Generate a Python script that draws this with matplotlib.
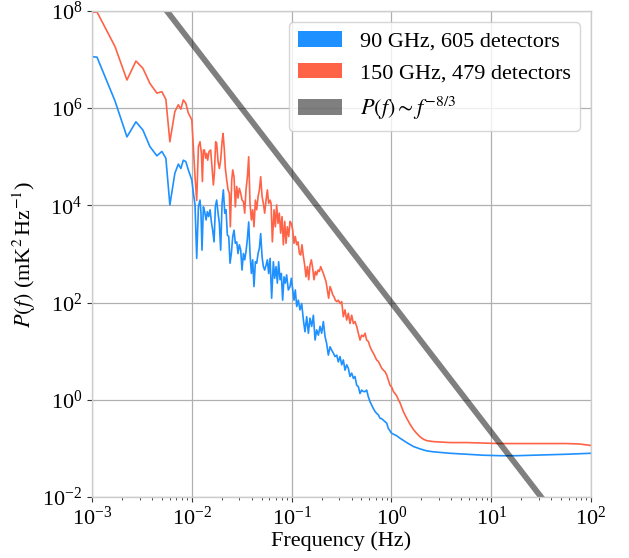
import numpy as np
import matplotlib
matplotlib.use('Agg')
import matplotlib.pyplot as plt
import matplotlib.patches as mpatches
from matplotlib.ticker import LogLocator, NullLocator, NullFormatter

plt.rcParams['font.family'] = 'serif'
plt.rcParams['font.serif'] = ['Liberation Serif', 'DejaVu Serif']
plt.rcParams['mathtext.fontset'] = 'stix'
plt.rcParams['font.size'] = 16

# as log10(frequency / Hz) and log10(P / mK^2 Hz^-1)
log_f_150 = [-3.00, -2.95, -2.77, -2.65, -2.56, -2.49, -2.42, -2.35, -2.30, -2.26,
             -2.22, -2.17, -2.135, -2.11, -2.085, -2.06, -2.035, -2.00, -1.968, -1.951,
             -1.934, -1.918, -1.904, -1.894, -1.884, -1.874, -1.861, -1.851, -1.841, -1.827,
             -1.811, -1.801, -1.784, -1.774, -1.761, -1.751, -1.737, -1.724, -1.711, -1.697,
             -1.687, -1.674, -1.664, -1.650, -1.637, -1.624, -1.614, -1.600, -1.590, -1.577,
             -1.564, -1.550, -1.537, -1.524, -1.510, -1.497, -1.483, -1.470, -1.457, -1.443,
             -1.430, -1.417, -1.403, -1.390, -1.377, -1.363, -1.350, -1.336, -1.323, -1.310,
             -1.296, -1.283, -1.270, -1.256, -1.243, -1.230, -1.216, -1.206, -1.193, -1.176,
             -1.163, -1.150, -1.136, -1.123, -1.110, -1.096, -1.083, -1.069, -1.056, -1.043,
             -1.029, -1.016, -1.003, -0.989, -0.976, -0.963, -0.949, -0.936, -0.922, -0.909,
             -0.896, -0.882, -0.869, -0.856, -0.842, -0.829, -0.816, -0.802, -0.789, -0.776,
             -0.762, -0.749, -0.735, -0.722, -0.709, -0.695, -0.682, -0.669, -0.655, -0.642,
             -0.629, -0.615, -0.602, -0.588, -0.575, -0.562, -0.548, -0.532, -0.515, -0.498,
             -0.482, -0.465, -0.448, -0.432, -0.415, -0.398, -0.381, -0.365, -0.348, -0.331,
             -0.315, -0.298, -0.281, -0.264, -0.248, -0.231, -0.214, -0.198, -0.181, -0.164,
             -0.148, -0.131, -0.114, -0.097, -0.081, -0.064, -0.047, -0.031, -0.014, 0.003,
             0.020, 0.036, 0.053, 0.070, 0.086, 0.119, 0.153, 0.186, 0.220, 0.253,
             0.286, 0.320, 0.353, 0.420, 0.587, 0.754, 0.921, 1.088, 1.255, 1.422,
             1.589, 1.756, 1.890, 2.000]
log_p_150 = [7.97, 7.98, 7.27, 6.58, 6.97, 6.82, 6.51, 6.31, 6.34, 6.18,
             5.31, 5.93, 6.07, 5.98, 6.17, 6.10, 5.90, 5.76, 4.59, 4.10,
             5.21, 5.31, 5.07, 4.49, 5.14, 5.14, 4.97, 5.07, 4.93, 5.11,
             5.14, 4.87, 4.42, 4.66, 5.31, 5.28, 4.90, 4.76, 4.93, 5.31,
             5.48, 5.14, 4.76, 4.52, 4.32, 4.25, 3.56, 4.52, 4.73, 4.59,
             3.97, 4.39, 4.15, 4.35, 4.25, 4.11, 4.08, 3.84, 4.32, 4.59,
             5.00, 4.04, 3.70, 3.91, 3.56, 4.11, 3.91, 4.18, 4.32, 4.59,
             4.18, 4.04, 3.84, 4.11, 4.32, 4.04, 4.11, 4.04, 3.25, 3.91,
             3.56, 4.01, 3.63, 3.84, 3.43, 3.77, 3.19, 3.67, 3.22, 3.56,
             3.36, 3.67, 3.63, 3.49, 3.22, 3.36, 3.19, 3.25, 3.01, 2.98,
             3.19, 2.95, 2.77, 2.53, 2.74, 2.47, 2.77, 2.88, 2.71, 2.47,
             2.64, 2.57, 2.67, 2.64, 2.74, 2.67, 2.60, 2.52, 2.43, 2.26,
             2.09, 2.33, 2.26, 2.16, 2.12, 2.05, 2.02, 2.05, 1.98, 2.02,
             1.71, 1.85, 1.64, 1.78, 1.57, 1.74, 1.57, 1.61, 1.51, 1.37,
             1.23, 1.33, 1.30, 1.37, 1.23, 1.20, 1.09, 1.02, 0.96, 0.89,
             0.82, 0.79, 0.72, 0.65, 0.61, 0.58, 0.51, 0.41, 0.30, 0.26,
             0.17, 0.13, 0.08, 0.00, -0.06, -0.24, -0.38, -0.50, -0.61, -0.69,
             -0.76, -0.81, -0.84, -0.86, -0.88, -0.88, -0.89, -0.90, -0.90, -0.90,
             -0.90, -0.90, -0.91, -0.94]

log_f_90 = [-3.00, -2.95, -2.77, -2.65, -2.56, -2.49, -2.42, -2.35, -2.30, -2.26,
            -2.22, -2.17, -2.135, -2.11, -2.085, -2.06, -2.035, -2.00, -1.984, -1.968,
            -1.951, -1.934, -1.918, -1.908, -1.898, -1.884, -1.871, -1.857, -1.844, -1.831,
            -1.817, -1.804, -1.791, -1.777, -1.764, -1.751, -1.737, -1.724, -1.711, -1.697,
            -1.684, -1.670, -1.657, -1.644, -1.630, -1.617, -1.604, -1.590, -1.577, -1.564,
            -1.550, -1.537, -1.524, -1.510, -1.497, -1.483, -1.470, -1.457, -1.443, -1.430,
            -1.417, -1.403, -1.390, -1.377, -1.363, -1.350, -1.336, -1.323, -1.310, -1.296,
            -1.283, -1.270, -1.256, -1.243, -1.230, -1.216, -1.200, -1.183, -1.170, -1.156,
            -1.143, -1.130, -1.116, -1.103, -1.090, -1.076, -1.063, -1.050, -1.033, -1.016,
            -1.003, -0.989, -0.976, -0.963, -0.949, -0.933, -0.916, -0.899, -0.882, -0.866,
            -0.849, -0.832, -0.816, -0.799, -0.782, -0.765, -0.749, -0.732, -0.715, -0.699,
            -0.682, -0.665, -0.649, -0.632, -0.615, -0.598, -0.582, -0.565, -0.548, -0.532,
            -0.515, -0.498, -0.482, -0.465, -0.448, -0.432, -0.415, -0.398, -0.381, -0.365,
            -0.348, -0.331, -0.315, -0.298, -0.281, -0.264, -0.248, -0.231, -0.214, -0.198,
            -0.181, -0.164, -0.148, -0.131, -0.114, -0.097, -0.081, -0.064, -0.047, -0.031,
            -0.014, 0.003, 0.053, 0.086, 0.153, 0.220, 0.286, 0.353, 0.420, 0.587,
            0.754, 0.921, 1.088, 1.255, 1.422, 1.589, 1.756, 2.000]
log_p_90 = [7.06, 7.05, 6.15, 5.41, 5.72, 5.55, 5.21, 5.02, 5.11, 4.97,
            4.01, 4.66, 4.85, 4.76, 4.93, 4.90, 4.73, 4.52, 4.25, 4.01,
            2.91, 3.97, 4.11, 3.84, 3.08, 3.97, 3.87, 3.70, 3.87, 3.77,
            3.91, 3.66, 3.49, 3.25, 3.97, 4.11, 3.84, 3.63, 3.08, 4.04,
            4.32, 3.84, 3.91, 3.39, 3.36, 2.81, 3.01, 3.36, 3.49, 3.22,
            3.25, 3.01, 3.19, 3.08, 2.67, 3.01, 2.88, 3.05, 3.32, 3.66,
            3.01, 2.60, 2.88, 2.33, 2.84, 2.81, 3.01, 3.12, 3.42, 2.94,
            2.74, 2.67, 2.77, 2.88, 2.60, 2.91, 2.09, 2.84, 2.50, 2.74,
            2.40, 2.84, 2.47, 2.60, 2.05, 2.53, 2.40, 2.57, 2.26, 2.33,
            2.50, 2.26, 2.05, 2.26, 1.92, 2.05, 1.85, 1.98, 1.64, 1.40,
            1.71, 1.37, 1.68, 1.51, 1.74, 1.23, 1.44, 1.33, 1.51, 1.37,
            1.61, 1.30, 1.16, 0.92, 1.09, 1.02, 0.96, 0.89, 0.92, 0.78,
            0.89, 0.72, 0.82, 0.61, 0.72, 0.65, 0.48, 0.55, 0.44, 0.48,
            0.30, 0.27, 0.13, 0.20, 0.17, 0.17, 0.20, 0.06, -0.04, -0.11,
            -0.18, -0.24, -0.28, -0.31, -0.38, -0.39, -0.42, -0.45, -0.48, -0.59,
            -0.64, -0.69, -0.74, -0.79, -0.88, -0.96, -1.01, -1.05, -1.07, -1.10,
            -1.12, -1.14, -1.15, -1.15, -1.14, -1.13, -1.12, -1.10]

powerlaw_amp = 1e2          # P(1 Hz)
powerlaw_index = -8.0 / 3.0
powerlaw_f = [1e-3, 1e2]

labels = ['90 GHz, 605 detectors', '150 GHz, 479 detectors', r'$P(f) \sim f^{-8/3}$']
colors = ['dodgerblue', 'tomato', 'k']

f_90 = 10 ** np.array(log_f_90)
p_90 = 10 ** np.array(log_p_90)
f_150 = 10 ** np.array(log_f_150)
p_150 = 10 ** np.array(log_p_150)
f_pl = np.array(powerlaw_f)
p_pl = powerlaw_amp * f_pl ** powerlaw_index

fig = plt.figure(figsize=(6.29, 5.58), dpi=100)
ax = fig.add_axes([0.1463, 0.1093, 0.7933, 0.8710])

ax.plot(f_90, p_90, color=colors[0], lw=1.2)
ax.plot(f_150, p_150, color=colors[1], lw=1.2)
ax.plot(f_pl, p_pl, color=colors[2], alpha=0.5, lw=4.2, solid_capstyle='butt')

ax.set_xscale('log')
ax.set_yscale('log')
ax.set_xlim(1e-3, 1e2)
ax.set_ylim(1e-2, 1e8)
ax.yaxis.set_major_locator(LogLocator(base=100.0, numticks=10))
ax.yaxis.set_minor_locator(NullLocator())
ax.xaxis.set_minor_locator(LogLocator(base=10.0, subs=np.arange(2, 10), numticks=20))
ax.xaxis.set_minor_formatter(NullFormatter())

ax.grid(True, which='major', color='#b0b0b0', lw=0.9)
ax.set_axisbelow(True)
for sp in ax.spines.values():
    sp.set_color('#cccccc')
    sp.set_linewidth(1.0)
ax.tick_params(which='major', direction='out', length=3.5, width=0.8, color='#333333', labelsize=16)
ax.tick_params(which='minor', direction='out', length=2, width=0.6, color='#333333')

ax.set_xlabel('Frequency (Hz)', fontsize=16, labelpad=1)
ax.set_ylabel(r'$P(f)$ (mK$^2\,$Hz$^{-1}$)', fontsize=16, labelpad=3)

handles = [mpatches.Patch(facecolor=colors[0], edgecolor='none', label=labels[0]),
           mpatches.Patch(facecolor=colors[1], edgecolor='none', label=labels[1]),
           mpatches.Patch(facecolor=colors[2], edgecolor='none', alpha=0.5, label=labels[2])]
ax.legend(handles=handles, loc='upper right', fontsize=16)

fig.savefig('out.png', dpi=100)
